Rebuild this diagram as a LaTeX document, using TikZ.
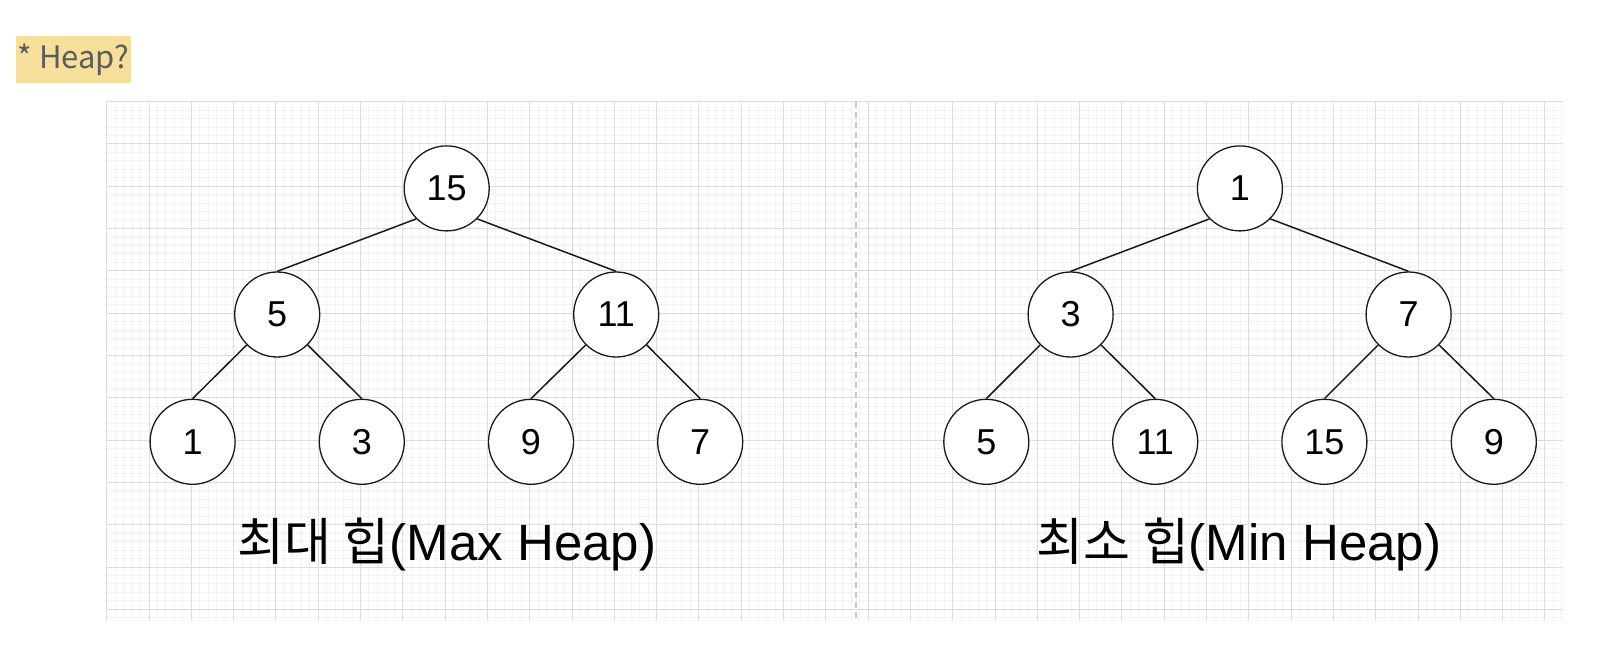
\documentclass[tikz,border=0pt]{standalone}
\usepackage{fontspec}
\setmainfont{Liberation Sans}
\newfontfamily\krfont{Noto Sans CJK KR}
\newfontfamily\notefont{Noto Sans CJK KR}
\usepackage{xcolor}
\usepackage{tikz}
\definecolor{gridmajor}{HTML}{DDDDDD}
\definecolor{gridminor}{HTML}{F2F2F2}
\definecolor{divider}{HTML}{C8C8C8}
\definecolor{notebg}{HTML}{F5DF9A}
\definecolor{notetext}{HTML}{5C5C5C}

\begin{document}
\begin{tikzpicture}[x=1pt, y=1pt,
	every node/.style={circle, draw=black!90, line width=1.3pt, fill=white, minimum size=85pt, inner sep=0pt, font=\fontsize{36}{36}\selectfont},
	heaplabel/.style={draw=none, fill=none, shape=rectangle, minimum size=0pt, inner sep=0pt, anchor=base, font=\fontsize{51}{51}\selectfont},
	notebox/.style={draw=none, fill=notebg, shape=rectangle, minimum size=0pt, minimum height=46.7pt, minimum width=115pt, inner xsep=2pt, inner ysep=0pt, anchor=west, text=notetext, font=\notefont\fontsize{31}{31}\selectfont},
	edge/.style={line width=1.5pt, black!90}]
	\useasboundingbox (0,0) rectangle (1622,662);
	\begin{scope}[shift={(106.7,560.3)}]
		\draw[gridminor, line width=1pt, step=8.46] (0,-519) grid (1456,0);
		\draw[gridmajor, line width=1pt, step=42.3] (0,-519) grid (1456,0);
	\end{scope}
	\draw[divider, line width=1.2pt, dash pattern=on 6pt off 4pt] (856,560.3) -- (856,41.3);
	
	\node[notebox] (note) at (15,602.6) {* Heap?};
	
	\node (A) at (446.7,473.6) {15};
	\node (B) at (277.2,347.5) {5};
	\node (C) at (616.2,347.5) {11};
	\node (D) at (192.6,220.2) {1};
	\node (E) at (361.8,220.2) {3};
	\node (F) at (531,220.2) {9};
	\node (G) at (700.2,220.2) {7};
	\draw[edge] (A.south west) -- (B.north);
	\draw[edge] (A.south east) -- (C.north);
	\draw[edge] (B.south west) -- (D.north);
	\draw[edge] (B.south east) -- (E.north);
	\draw[edge] (C.south west) -- (F.north);
	\draw[edge] (C.south east) -- (G.north);
	\node[heaplabel] (maxlabel) at (447,102) {{\krfont 최대 힙}(Max Heap)};
	
	\node (H) at (1239.9,473.6) {1};
	\node (I) at (1070.6,347.5) {3};
	\node (J) at (1408.6,347.5) {7};
	\node (K) at (986.3,220.2) {5};
	\node (L) at (1155.2,220.2) {11};
	\node (M) at (1324.4,220.2) {15};
	\node (N) at (1493.8,220.2) {9};
	\draw[edge] (H.south west) -- (I.north);
	\draw[edge] (H.south east) -- (J.north);
	\draw[edge] (I.south west) -- (K.north);
	\draw[edge] (I.south east) -- (L.north);
	\draw[edge] (J.south west) -- (M.north);
	\draw[edge] (J.south east) -- (N.north);
	\node[heaplabel] (minlabel) at (1239,102) {{\krfont 최소 힙}(Min Heap)};
	
\end{tikzpicture}
\end{document}
